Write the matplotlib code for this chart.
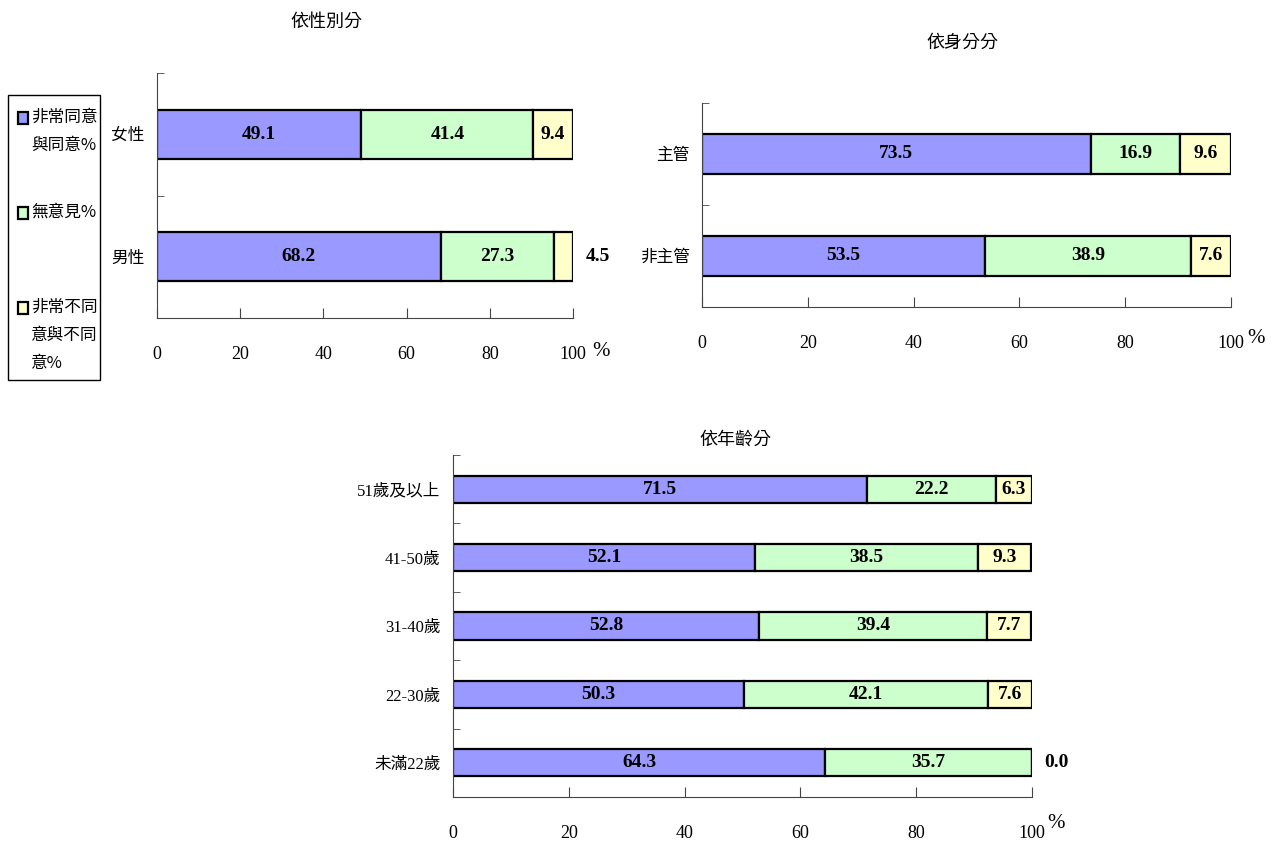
import numpy as np
import matplotlib.pyplot as plt
from matplotlib.patches import Rectangle

plt.rcParams['font.family'] = ['Liberation Serif', 'Noto Sans CJK TC']

# data
series = ['非常同意\n與同意%', '無意見%', '非常不同\n意與不同\n意%']
colors = ['#9999FF', '#CCFFCC', '#FFFFCC']

sex_cats = ['男性', '女性']
sex_agree = [68.2, 49.1]
sex_none = [27.3, 41.4]
sex_dis = [4.5, 9.4]

role_cats = ['非主管', '主管']
role_agree = [53.5, 73.5]
role_none = [38.9, 16.9]
role_dis = [7.6, 9.6]

age_cats = ['未滿22歲', '22-30歲', '31-40歲', '41-50歲', '51歲及以上']
age_agree = [64.3, 50.3, 52.8, 52.1, 71.5]
age_none = [35.7, 42.1, 39.4, 38.5, 22.2]
age_dis = [0.0, 7.6, 7.7, 9.3, 6.3]

W, H = 1273, 844
fig = plt.figure(figsize=(W / 100, H / 100), dpi=100)


def draw(ax, cats, vals, title, title_xy, pct_off):
    y = np.arange(len(cats))
    left = np.zeros(len(cats))
    for v, c in zip(vals, colors):
        v = np.array(v)
        ax.barh(y, v, left=left, height=0.4, color=c, edgecolor='black', linewidth=1.6)
        for yi, l, vi in zip(y, left, v):
            if vi >= 5:
                ax.text(l + vi / 2, yi, f'{vi:.1f}', ha='center', va='center',
                        fontsize=14, fontweight='bold')
            else:
                ax.annotate(f'{vi:.1f}', xy=(100, yi), xytext=(9, 0), textcoords='offset points',
                            ha='left', va='center', fontsize=14, fontweight='bold')
        left = left + v
    ax.set_xlim(0, 100)
    ax.set_ylim(-0.5, len(cats) - 0.5)
    ax.set_xticks(range(0, 101, 20))
    ax.set_yticks(y)
    ax.set_yticklabels(cats, fontsize=12)
    ax.set_yticks(np.arange(len(cats)) + 0.5, minor=True)
    ax.tick_params(axis='y', which='major', length=0, pad=9)
    ax.tick_params(axis='y', which='minor', length=5, direction='in', color='#444444')
    ax.tick_params(axis='x', direction='in', length=7, pad=20, labelsize=13, color='#444444')
    ax.spines['top'].set_visible(False)
    ax.spines['right'].set_visible(False)
    ax.spines['left'].set_color('#444444')
    ax.spines['bottom'].set_color('#444444')
    ax.annotate('%', xy=(100, -0.5), xycoords='data', xytext=pct_off, textcoords='offset points',
                fontsize=15, ha='left', va='center', annotation_clip=False)
    fig.text(title_xy[0] / W, 1 - title_xy[1] / H, title, ha='center', va='center', fontsize=13)


ax1 = fig.add_axes([157 / W, 1 - 318 / H, 416 / W, 245 / H])
draw(ax1, sex_cats, [sex_agree, sex_none, sex_dis], '依性別分', (326, 22), (14, -24))

ax2 = fig.add_axes([702 / W, 1 - 307 / H, 529 / W, 204 / H])
draw(ax2, role_cats, [role_agree, role_none, role_dis], '依身分分', (962, 43), (12, -23))

ax3 = fig.add_axes([453 / W, 1 - 797 / H, 579 / W, 342 / H])
draw(ax3, age_cats, [age_agree, age_none, age_dis], '依年齡分', (735, 440), (11, -19))

# legend box (handles aligned to first text line as in the original)
fig.patches.append(Rectangle((8 / W, 1 - 380 / H), 92 / W, 285 / H, transform=fig.transFigure,
                             facecolor='white', edgecolor='black', linewidth=1.0))
for lab, c, ytop in zip(series, colors, [118, 213, 308]):
    fig.patches.append(Rectangle((18 / W, 1 - (ytop + 6) / H), 10 / W, 12 / H,
                                 transform=fig.transFigure, facecolor=c,
                                 edgecolor='black', linewidth=1.6))
    fig.text(31 / W, 1 - (ytop - 9) / H, lab, ha='left', va='top', fontsize=12,
             family=['Noto Sans CJK TC'], linespacing=1.85)

fig.savefig('out.png', dpi=100)
